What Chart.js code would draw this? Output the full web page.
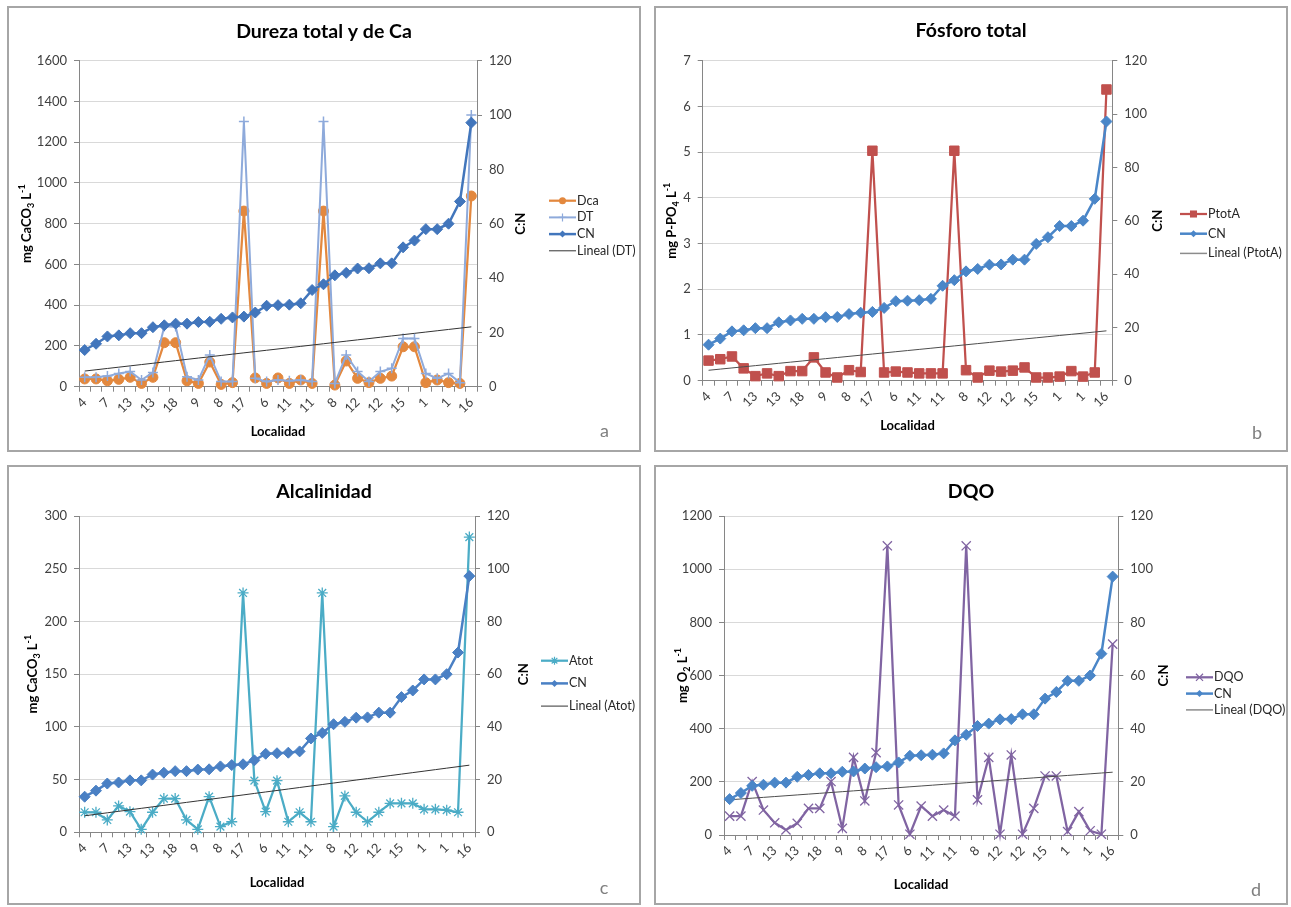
<!DOCTYPE html>
<html>
<head>
<meta charset="utf-8">
<script src="https://cdn.jsdelivr.net/npm/chart.js@4.4.1/dist/chart.umd.min.js"></script>
<style>
  html, body { margin: 0; padding: 0; background: #fff; }
  body { width: 1291px; height: 907px; position: relative; overflow: hidden; font-family: Lato, "Open Sans", sans-serif; }
  .panel { position: absolute; box-sizing: border-box; border: 2px solid #a6a6a6; background: #fff; }
  .panel canvas { position: absolute; left: 0; top: 0; }
</style>
</head>
<body>
<div class="panel" style="left:7px;top:6px;width:634px;height:446px"><canvas id="chartA" width="630" height="442"></canvas></div>
<div class="panel" style="left:654px;top:6px;width:634px;height:446px"><canvas id="chartB" width="630" height="442"></canvas></div>
<div class="panel" style="left:7px;top:465px;width:634px;height:440px"><canvas id="chartC" width="630" height="436"></canvas></div>
<div class="panel" style="left:654px;top:465px;width:634px;height:440px"><canvas id="chartD" width="630" height="436"></canvas></div>

<script>
// Localities, ordered by increasing C:N; only every other one is labelled on the axis
const tickLabels = ['4', '7', '13', '13', '18', '9', '8', '17', '6', '11', '11', '8', '12', '12', '15', '1', '1', '16'];
const localidad = tickLabels.flatMap((t, i) => (i < tickLabels.length - 1 ? [t, ''] : [t]));

// C:N ratio (secondary axis, all four panels)
const cn = [13.5, 15.8, 18.5, 18.9, 19.7, 19.7, 21.9, 22.6, 23.2, 23.2, 23.8, 23.9, 25.0, 25.5, 25.8, 27.3, 29.8, 30.0,
            30.2, 30.7, 35.6, 37.7, 41.0, 41.9, 43.5, 43.6, 45.4, 45.4, 51.3, 53.8, 58.0, 58.0, 60.0, 68.2, 97.2];

// Calcium hardness and total hardness, mg CaCO3/L
const dca = [38, 38, 29, 36, 46, 16, 46, 216, 216, 29, 16, 121, 11, 20, 862, 43, 16, 43, 16, 33, 16, 862, 8, 126, 41,
             20, 41, 52, 196, 196, 20, 33, 20, 16, 936];
const dt = [46, 46, 52, 65, 74, 33, 70, 295, 295, 49, 33, 155, 25, 25, 1301, 41, 25, 33, 29, 33, 25, 1301, 16, 155, 74,
            25, 74, 90, 237, 237, 65, 41, 65, 20, 1334];

// Total phosphorus, mg P-PO4/L
const ptotA = [0.44, 0.47, 0.53, 0.27, 0.10, 0.16, 0.10, 0.21, 0.21, 0.51, 0.18, 0.07, 0.23, 0.19, 5.03, 0.18, 0.20, 0.18,
               0.16, 0.16, 0.16, 5.03, 0.23, 0.07, 0.22, 0.20, 0.22, 0.29, 0.07, 0.07, 0.09, 0.21, 0.09, 0.18, 6.37];

// Total alkalinity, mg CaCO3/L
const atot = [19, 19, 11.7, 25, 19.6, 2.8, 19, 32, 32, 11.7, 2.8, 33.8, 5.4, 10, 227, 49, 19.6, 49, 10, 19, 10, 227, 5.4,
              34.5, 19, 10, 19, 27.5, 27.5, 27.5, 21.8, 21.8, 21, 19, 280];

// Chemical oxygen demand, mg O2/L
const dqo = [71, 71, 201, 94, 46, 19, 44, 100, 100, 201, 25, 292, 128, 310, 1088, 113, 3, 109, 71, 94, 71, 1088, 132, 292,
             3, 301, 3, 100, 222, 222, 13, 88, 16, 3, 718];

Chart.defaults.font.family = 'Lato, "Open Sans", sans-serif';

// Least-squares straight line over the category index (the "Lineal" trendline)
function linearFit(values) {
  const n = values.length;
  let sx = 0, sy = 0, sxx = 0, sxy = 0;
  values.forEach((y, i) => { const x = i + 1; sx += x; sy += y; sxx += x * x; sxy += x * y; });
  const b = (n * sxy - sx * sy) / (n * sxx - sx * sx);
  const a = (sy - b * sx) / n;
  return values.map((_, i) => a + b * (i + 1));
}

function drawMarker(ctx, style, x, y, r, color, lw) {
  ctx.save();
  ctx.fillStyle = color; ctx.strokeStyle = color; ctx.lineWidth = lw;
  ctx.beginPath();
  const s = r * Math.SQRT1_2;
  switch (style) {
    case 'circle': ctx.arc(x, y, r, 0, Math.PI * 2); ctx.fill(); break;
    case 'rect': ctx.rect(x - s, y - s, 2 * s, 2 * s); ctx.fill(); break;
    case 'rectRot': ctx.moveTo(x, y - r); ctx.lineTo(x + r, y); ctx.lineTo(x, y + r); ctx.lineTo(x - r, y); ctx.closePath(); ctx.fill(); break;
    case 'cross': ctx.moveTo(x - r, y); ctx.lineTo(x + r, y); ctx.moveTo(x, y - r); ctx.lineTo(x, y + r); ctx.stroke(); break;
    case 'crossRot': ctx.moveTo(x - s, y - s); ctx.lineTo(x + s, y + s); ctx.moveTo(x + s, y - s); ctx.lineTo(x - s, y + s); ctx.stroke(); break;
    case 'star':
      ctx.moveTo(x - r, y); ctx.lineTo(x + r, y); ctx.moveTo(x, y - r); ctx.lineTo(x, y + r);
      ctx.moveTo(x - s, y - s); ctx.lineTo(x + s, y + s); ctx.moveTo(x + s, y - s); ctx.lineTo(x - s, y + s); ctx.stroke(); break;
  }
  ctx.restore();
}

// Text with sub/superscript pieces, centred on (x, y) and rotated by angle
function drawRich(ctx, parts, x, y, angle, size) {
  const small = Math.round(size * 0.7);
  const fontOf = p => `bold ${p.sub || p.sup ? small : size}px Lato, "Open Sans", sans-serif`;
  let total = 0;
  parts.forEach(p => { ctx.font = fontOf(p); total += ctx.measureText(p.t).width; });
  ctx.save();
  ctx.translate(x, y);
  ctx.rotate(angle);
  ctx.textAlign = 'left';
  ctx.textBaseline = 'middle';
  let cx = -total / 2;
  parts.forEach(p => {
    ctx.font = fontOf(p);
    const dy = p.sub ? size * 0.3 : p.sup ? -size * 0.35 : 0;
    ctx.fillText(p.t, cx, dy);
    cx += ctx.measureText(p.t).width;
  });
  ctx.restore();
}

const decor = {
  id: 'decor',
  afterDraw(chart, args, o) {
    const ctx = chart.ctx;
    const a = chart.chartArea;
    const midY = (a.top + a.bottom) / 2;
    ctx.save();
    ctx.fillStyle = '#000';
    ctx.textAlign = 'center';
    ctx.textBaseline = 'middle';
    ctx.font = 'bold 19.5px Lato, "Open Sans", sans-serif';
    ctx.fillText(o.title, chart.width / 2, o.titleY);

    ctx.font = 'bold 13px Lato, "Open Sans", sans-serif';
    ctx.fillText('Localidad', (a.left + a.right) / 2, o.xTitleY);

    drawRich(ctx, o.yTitle, o.yTitleX, midY, -Math.PI / 2, 13);
    drawRich(ctx, [{ t: 'C:N' }], o.y1TitleX, midY, -Math.PI / 2, 13);

    // legend: line sample with marker, then the series name
    const lg = o.legend;
    o.legendItems.forEach((it, i) => {
      const y = lg.y + i * lg.gap;
      ctx.strokeStyle = it.color;
      ctx.lineWidth = it.width;
      ctx.beginPath();
      ctx.moveTo(lg.x, y); ctx.lineTo(lg.x + 27, y);
      ctx.stroke();
      if (it.marker) drawMarker(ctx, it.marker, lg.x + 13.5, y, it.mr, it.color, 1.2);
      ctx.fillStyle = '#262626';
      ctx.font = '12.5px Lato, "Open Sans", sans-serif';
      ctx.textAlign = 'left';
      ctx.fillText(it.text, lg.x + 28, y);
    });

    ctx.fillStyle = '#7f7f7f';
    ctx.font = '18px Lato, "Open Sans", sans-serif';
    ctx.textAlign = 'center';
    ctx.fillText(o.letter, o.letterX, o.letterY);
    ctx.restore();
  }
};

function buildChart(id, spec) {
  const canvas = document.getElementById(id);
  const W = canvas.width, H = canvas.height;
  const area = spec.area;
  const tickFont = { family: 'Lato, "Open Sans", sans-serif', size: 13 };
  const axisGray = '#868686';
  const plain = v => String(v);
  return new Chart(canvas, {
    type: 'line',
    data: { labels: localidad, datasets: spec.datasets },
    options: {
      responsive: false,
      animation: false,
      events: [],
      layout: { padding: { top: area.top, left: 0, right: 0, bottom: 0 } },
      elements: { line: { tension: 0 } },
      plugins: { legend: { display: false }, tooltip: { enabled: false }, decor: spec.decor },
      scales: {
        x: {
          type: 'category',
          offset: true,
          grid: { offset: true, drawOnChartArea: false, drawTicks: true, tickLength: 5, color: axisGray },
          border: { color: axisGray },
          ticks: { autoSkip: false, maxRotation: 45, minRotation: 45, font: tickFont, color: '#404040', padding: 3 },
          afterFit: s => { s.height = H - area.bottom; }
        },
        y: {
          position: 'left',
          min: 0, max: spec.yMax,
          ticks: { stepSize: spec.yStep, font: tickFont, color: '#404040', padding: 7, callback: plain },
          grid: { color: '#d9d9d9', tickColor: axisGray, tickLength: 5 },
          border: { color: axisGray },
          afterFit: s => { s.width = area.left; }
        },
        y1: {
          position: 'right',
          min: 0, max: 120,
          ticks: { stepSize: 20, font: tickFont, color: '#404040', padding: 7, callback: plain },
          grid: { drawOnChartArea: false, tickColor: axisGray, tickLength: 5 },
          border: { color: axisGray },
          afterFit: s => { s.width = W - area.right; }
        }
      }
    },
    plugins: [decor]
  });
}

function lineSeries(label, data, color, style, radius, axis, order, width, pointLw) {
  return {
    label, data, yAxisID: axis, order,
    borderColor: color, backgroundColor: color, borderWidth: width,
    pointStyle: style, pointRadius: radius, pointBorderWidth: pointLw,
    pointBackgroundColor: color, pointBorderColor: color, clip: false
  };
}
function trendSeries(label, values, color) {
  return { label, data: linearFit(values), yAxisID: 'y', order: 1, borderColor: color, borderWidth: 1, pointRadius: 0, clip: false };
}

const cnA = '#4276BC';
const cnB = '#4A86C8';

// a: total and calcium hardness
buildChart('chartA', {
  area: { left: 70, right: 468, top: 52.7, bottom: 378.7 },
  yMax: 1600, yStep: 200,
  datasets: [
    lineSeries('Dca', dca, '#E3883E', 'circle', 5, 'y', 3, 2.25, 1),
    lineSeries('DT', dt, '#8EAADB', 'cross', 5, 'y', 2, 2, 1.5),
    lineSeries('CN', cn, cnA, 'rectRot', 5.5, 'y1', 0, 2.5, 1),
    trendSeries('Lineal (DT)', dt, '#333333')
  ],
  decor: {
    title: 'Dureza total y de Ca', titleY: 24, xTitleY: 424,
    yTitle: [{ t: 'mg CaCO' }, { t: '3', sub: true }, { t: ' L' }, { t: '-1', sup: true }], yTitleX: 18, y1TitleX: 512,
    legend: { x: 540, y: 192.7, gap: 16.7 },
    legendItems: [
      { text: 'Dca', color: '#E3883E', width: 2.25, marker: 'circle', mr: 3.5 },
      { text: 'DT', color: '#8EAADB', width: 2, marker: 'cross', mr: 4 },
      { text: 'CN', color: cnA, width: 2.5, marker: 'rectRot', mr: 3.5 },
      { text: 'Lineal (DT)', color: '#333333', width: 1 }
    ],
    letter: 'a', letterX: 595.5, letterY: 423
  }
});

// b: total phosphorus
buildChart('chartB', {
  area: { left: 46.7, right: 456.3, top: 52.7, bottom: 372.7 },
  yMax: 7, yStep: 1,
  datasets: [
    lineSeries('PtotA', ptotA, '#C0504D', 'rect', 6.7, 'y', 2, 2.25, 1),
    lineSeries('CN', cn, cnB, 'rectRot', 5.5, 'y1', 0, 2.5, 1),
    trendSeries('Lineal (PtotA)', ptotA, '#4d4d4d')
  ],
  decor: {
    title: 'Fósforo total', titleY: 23, xTitleY: 418,
    yTitle: [{ t: 'mg P-PO' }, { t: '4', sub: true }, { t: ' L' }, { t: '-1', sup: true }], yTitleX: 16, y1TitleX: 502,
    legend: { x: 524, y: 206, gap: 19.7 },
    legendItems: [
      { text: 'PtotA', color: '#C0504D', width: 2.25, marker: 'rect', mr: 5 },
      { text: 'CN', color: cnB, width: 2.5, marker: 'rectRot', mr: 3.5 },
      { text: 'Lineal (PtotA)', color: '#8c8c8c', width: 1.5 }
    ],
    letter: 'b', letterX: 601, letterY: 425
  }
});

// c: alkalinity
buildChart('chartC', {
  area: { left: 70, right: 466, top: 49, bottom: 365.3 },
  yMax: 300, yStep: 50,
  datasets: [
    lineSeries('Atot', atot, '#4BACC6', 'star', 5.5, 'y', 2, 2.25, 1.3),
    lineSeries('CN', cn, '#4A80C4', 'rectRot', 5.5, 'y1', 0, 2.5, 1),
    trendSeries('Lineal (Atot)', atot, '#333333')
  ],
  decor: {
    title: 'Alcalinidad', titleY: 25, xTitleY: 416,
    yTitle: [{ t: 'mg CaCO' }, { t: '3', sub: true }, { t: ' L' }, { t: '-1', sup: true }], yTitleX: 24, y1TitleX: 515,
    legend: { x: 532, y: 193.7, gap: 22.7 },
    legendItems: [
      { text: 'Atot', color: '#4BACC6', width: 2.25, marker: 'star', mr: 4 },
      { text: 'CN', color: '#4A80C4', width: 2.5, marker: 'rectRot', mr: 3.5 },
      { text: 'Lineal (Atot)', color: '#333333', width: 1 }
    ],
    letter: 'c', letterX: 595, letterY: 421
  }
});

// d: chemical oxygen demand
buildChart('chartD', {
  area: { left: 68, right: 462.3, top: 49, bottom: 368 },
  yMax: 1200, yStep: 200,
  datasets: [
    lineSeries('DQO', dqo, '#8064A2', 'crossRot', 6.5, 'y', 2, 2.25, 1.3),
    lineSeries('CN', cn, cnB, 'rectRot', 5.5, 'y1', 0, 2.5, 1),
    trendSeries('Lineal (DQO)', dqo, '#4d4d4d')
  ],
  decor: {
    title: 'DQO', titleY: 25, xTitleY: 418,
    yTitle: [{ t: 'mg O' }, { t: '2', sub: true }, { t: ' L' }, { t: '-1', sup: true }], yTitleX: 27, y1TitleX: 508,
    legend: { x: 530, y: 210.3, gap: 16.3 },
    legendItems: [
      { text: 'DQO', color: '#8064A2', width: 2.25, marker: 'crossRot', mr: 5 },
      { text: 'CN', color: cnB, width: 2.5, marker: 'rectRot', mr: 3.5 },
      { text: 'Lineal (DQO)', color: '#8c8c8c', width: 1.5 }
    ],
    letter: 'd', letterX: 600, letterY: 423
  }
});
</script>
</body>
</html>
